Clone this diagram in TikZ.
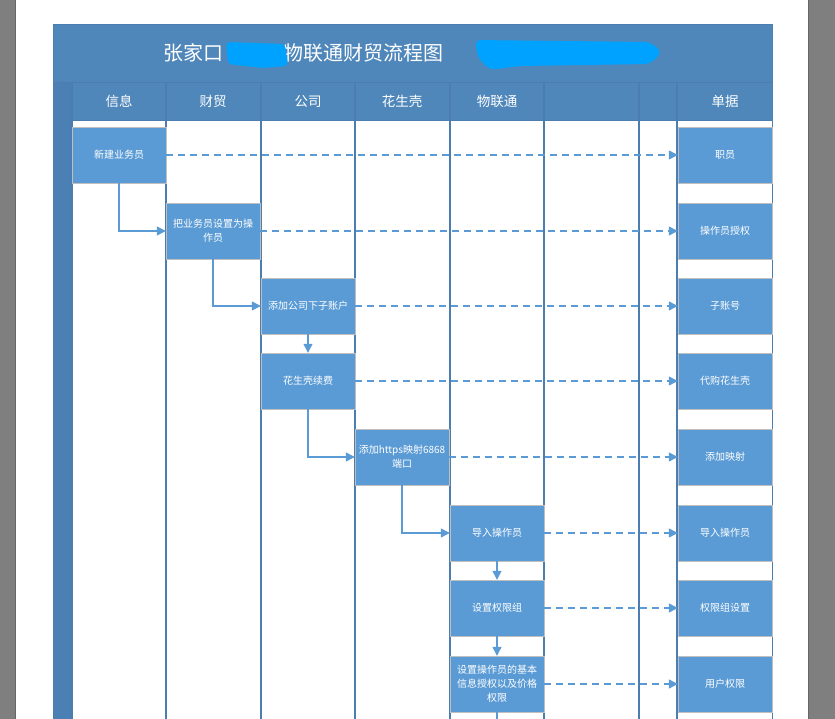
\documentclass[tikz,border=0pt]{standalone}
\usepackage{fontspec}
\setmainfont{Noto Sans CJK SC}
\usetikzlibrary{arrows.meta}
\definecolor{bg}{HTML}{7F7F7F}
\definecolor{band}{HTML}{4F87BA}
\definecolor{strip}{HTML}{4A80B4}
\definecolor{lane}{HTML}{4B7DB0}
\definecolor{boxc}{HTML}{5B9BD5}
\definecolor{scrib}{HTML}{00A2FF}
\tikzset{
  box/.style={draw=black!25,fill=boxc,minimum width=94pt,minimum height=56pt,align=center,inner sep=1pt,font=\fontsize{10}{14}\selectfont,text=white},
  hdr/.style={text=white,font=\fontsize{13.5}{15}\selectfont},
  flow/.style={draw=boxc,line width=1.2pt,-{Triangle[length=9pt,width=9pt]}},
  dflow/.style={flow,dashed,dash pattern=on 7pt off 5pt},
}
\begin{document}
\begin{tikzpicture}[x=1pt,y=-1pt]
\useasboundingbox (0,0) rectangle (835,719);
\fill[bg] (0,0) rectangle (835,719);
\fill[white] (15,0) rectangle (808,719);
\draw[black!60] (15,0) -- (15,719) (808,0) -- (808,719);
% frame
\fill[band] (53,24) rectangle (772,82);
\fill[band] (53,82) rectangle (772,120);
\fill[strip] (53,82) rectangle (72,719);
\draw[lane] (53,24) rectangle (772,719);
\draw[lane] (53,82) -- (772,82);
\foreach \x in {72,166,261,355,450,544,639,677} \draw[lane,line width=1.2pt] (\x,82) -- (\x,719);
\draw[lane] (72,120) -- (772,120);
% title
\node[text=white,font=\fontsize{20}{22}\selectfont,anchor=west] (title) at (160,53) {张家口\hspace{60pt}物联通财贸流程图};
\fill[scrib,rounded corners=4pt] (226,42) -- (285,44) -- (288,66) -- (262,68) -- (228,64) -- cycle;
\fill[scrib,rounded corners=6pt] (475,40) -- (650,42) -- (662,52) -- (650,64) -- (520,66) -- (490,70) -- (478,58) -- cycle;
% headers
\node[hdr] (h1) at (119,101) {信息};
\node[hdr] (h2) at (213,101) {财贸};
\node[hdr] (h3) at (308,101) {公司};
\node[hdr] (h4) at (402,101) {花生壳};
\node[hdr] (h5) at (497,101) {物联通};
\node[hdr] (h6) at (725,101) {单据};
% boxes
\node[box] (a) at (119,155) {新建业务员};
\node[box] (b) at (213,231) {把业务员设置为操\\作员};
\node[box] (c) at (308,306) {添加公司下子账户};
\node[box] (d) at (308,381) {花生壳续费};
\node[box] (e) at (402,457) {添加https映射6868\\端口};
\node[box] (f) at (497,533) {导入操作员};
\node[box] (g) at (497,608) {设置权限组};
\node[box] (h) at (497,684) {设置操作员的基本\\信息授权以及价格\\权限};
\node[box] (ra) at (725,155) {职员};
\node[box] (rb) at (725,231) {操作员授权};
\node[box] (rc) at (725,306) {子账号};
\node[box] (rd) at (725,381) {代购花生壳};
\node[box] (re) at (725,457) {添加映射};
\node[box] (rf) at (725,533) {导入操作员};
\node[box] (rg) at (725,608) {权限组设置};
\node[box] (rh) at (725,684) {用户权限};
\coordinate (hend) at (497,719);
% flows
\draw[flow] (a.south) |- (b.west);
\draw[flow] (b.south) |- (c.west);
\draw[flow] (c) -- (d);
\draw[flow] (d.south) |- (e.west);
\draw[flow] (e.south) |- (f.west);
\draw[flow] (f) -- (g);
\draw[flow] (g) -- (h);
\draw[draw=boxc,line width=1.2pt] (h.south) -- (hend);
\foreach \s/\t in {a/ra,b/rb,c/rc,d/rd,e/re,f/rf,g/rg,h/rh} \draw[dflow] (\s.east) -- (\t.west);
\end{tikzpicture}
\end{document}
